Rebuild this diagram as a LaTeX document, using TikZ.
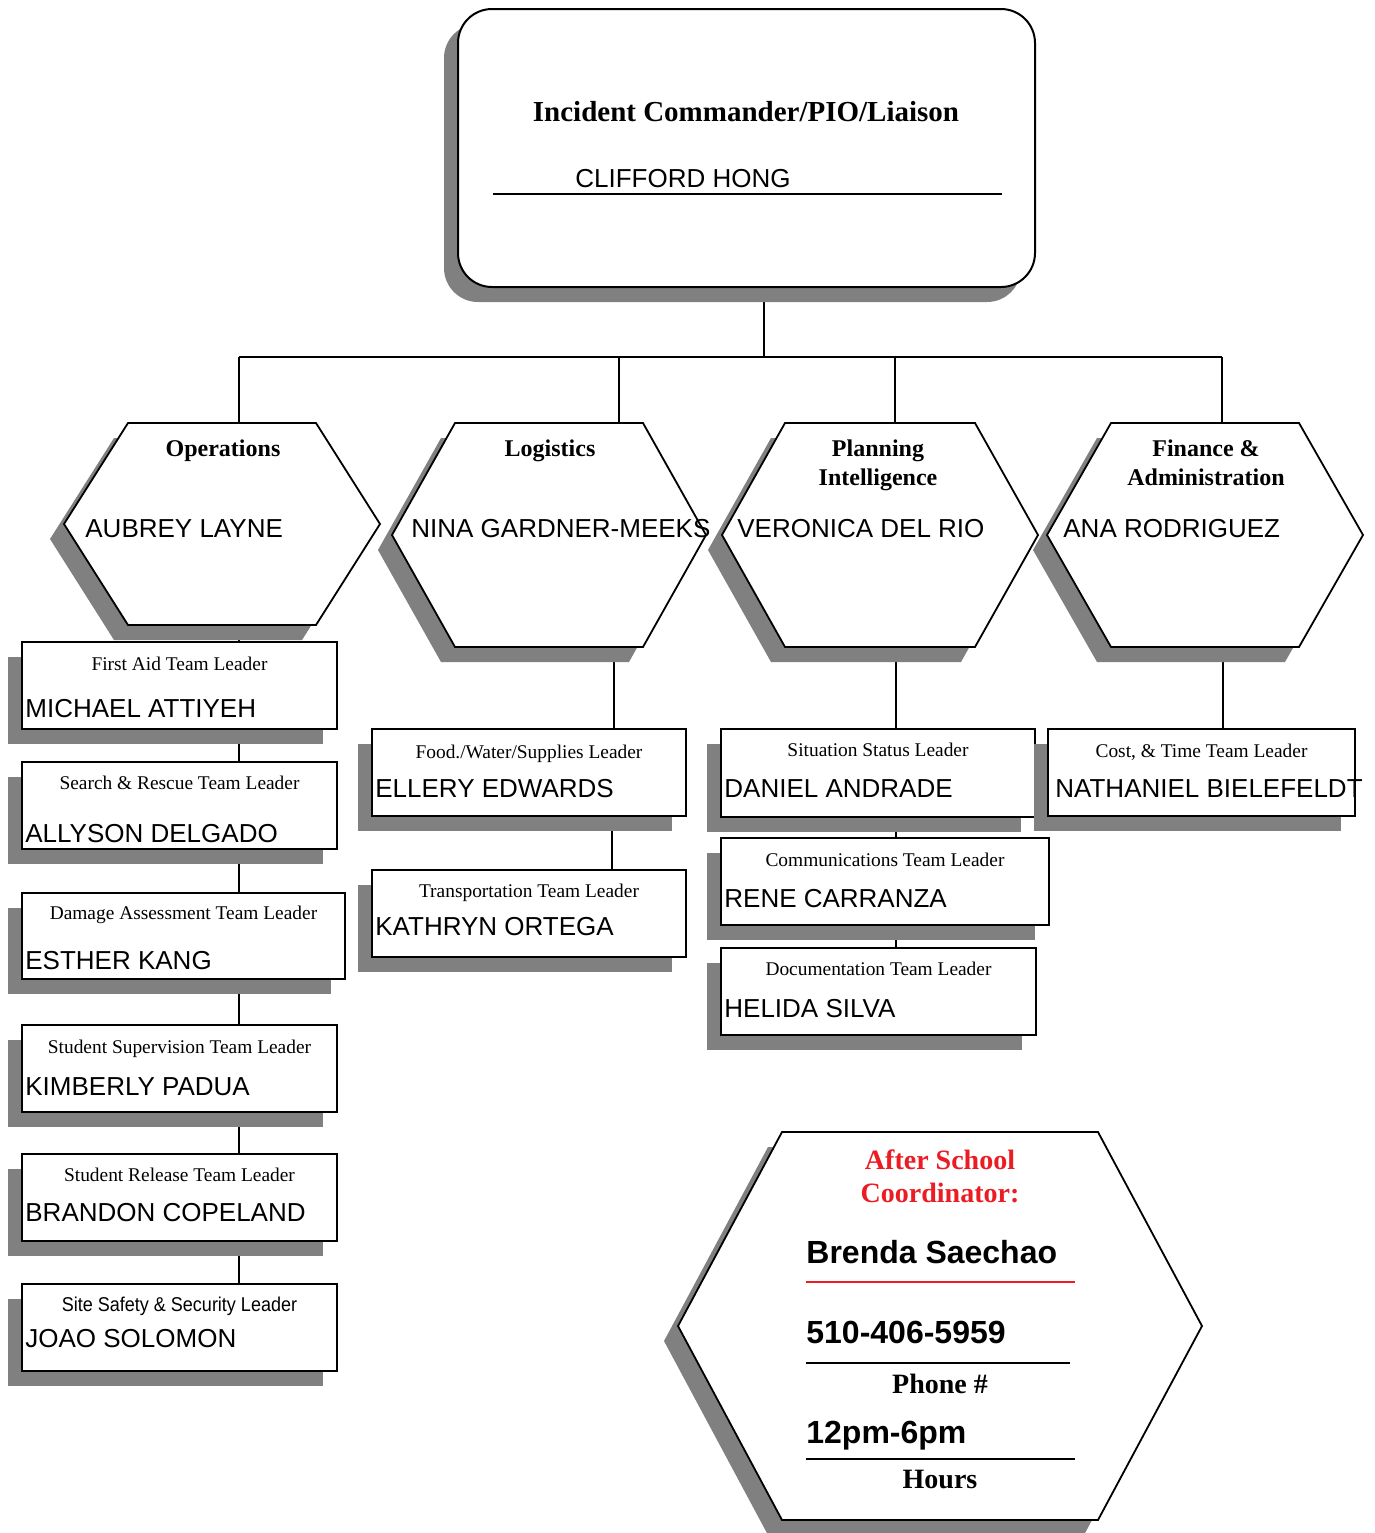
\documentclass[tikz,border=0pt]{standalone}
\usepackage{fontspec}
\setmainfont{Liberation Serif}
\newfontfamily\arial{Liberation Sans}
\newfontfamily\narrowsans[FakeStretch=0.9]{Liberation Sans}
\usetikzlibrary{shadows,backgrounds,calc}
\definecolor{shadowc}{RGB}{128,128,128}
\definecolor{ascred}{RGB}{235,28,36}

\tikzset{
  frame/.style={draw=black,line width=0.9pt,line join=miter},
  conn/.style={draw=black,line width=0.75pt},
  myshadow/.style={drop shadow={opacity=1,fill=shadowc,shadow xshift=-7pt,shadow yshift=-7.5pt}},
  lbox/.style={rectangle,draw=black,line width=1pt,fill=white,inner sep=0pt,outer sep=0pt,myshadow},
  ltitle/.style={anchor=base,inner sep=0pt,font=\fontsize{9.7}{11}\selectfont},
  lname/.style={anchor=base west,inner sep=0pt,font=\arial\fontsize{13}{15}\selectfont},
  htitle/.style={anchor=base,inner sep=0pt,font=\bfseries\fontsize{12}{14}\selectfont},
  asctitle/.style={anchor=base,inner sep=0pt,font=\bfseries\fontsize{14}{16}\selectfont},
  bigname/.style={anchor=base west,inner sep=0pt,font=\arial\bfseries\fontsize{16}{19}\selectfont},
}

% name, cx, cy, half width, half height, inset (all in px)
\newcommand\myhex[6]{%
  \fill[shadowc] ({#2-#4-14},{#3+15}) -- ({#2-#4+#6-14},{#3-#5+15}) -- ({#2+#4-#6-14},{#3-#5+15}) -- ({#2+#4-14},{#3+15}) -- ({#2+#4-#6-14},{#3+#5+15}) -- ({#2-#4+#6-14},{#3+#5+15}) -- cycle;
  \draw[frame,fill=white] ({#2-#4},{#3}) -- ({#2-#4+#6},{#3-#5}) -- ({#2+#4-#6},{#3-#5}) -- ({#2+#4},{#3}) -- ({#2+#4-#6},{#3+#5}) -- ({#2-#4+#6},{#3+#5}) -- cycle;
  \node[inner sep=0pt,outer sep=0pt,minimum width={#4*1pt},minimum height={#5*1pt}] (#1) at (#2,#3) {};
}

% name, x1, y1, x2, y2, title, person, title y, name y
\newcommand\ldrbox[9]{%
  \node[lbox,minimum width={(#4-#2)*0.5pt},minimum height={(#5-#3)*0.5pt}] (#1) at ({(#2+#4)/2},{(#3+#5)/2}) {};
  \node[ltitle] (#1-t) at ({(#2+#4)/2},{#8+6}) {#6};
  \node[lname] (#1-n) at ({#2+3},{#9+9}) {#7};
}

\begin{document}
\begin{tikzpicture}[x=0.5pt,y=-0.5pt]
\useasboundingbox (0,0) rectangle (1375,1533);
\begin{pgfonlayer}{background}
  \fill[white] (0,0) rectangle (1375,1533);
\end{pgfonlayer}

% top box
\node[rectangle,rounded corners=17pt,draw=black,line width=1pt,fill=white,myshadow,
      minimum width=288.5pt,minimum height=139pt,inner sep=0pt,outer sep=0pt] (ic) at (746.5,148) {};
\node[anchor=base,inner sep=0pt,font=\bfseries\fontsize{14.5}{17}\selectfont] (ic-t) at (746,121) {Incident Commander/PIO/Liaison};
\node[lname] (ic-n) at (575,187) {CLIFFORD HONG};
\draw[line width=0.8pt] (493,194) -- (1002,194);

% section hexagons
\myhex{ops}{222}{524}{158}{101}{64}
\myhex{log}{549}{535}{157}{112}{63}
\myhex{pla}{880}{535}{158}{112}{63}
\myhex{fin}{1205}{535}{158}{112}{64}

\node[htitle] (ops-t) at (223,456) {Operations};
\node[lname] (ops-n) at (85,537) {AUBREY LAYNE};
\node[htitle] (log-t) at (550,456) {Logistics};
\node[lname] (log-n) at (411,537) {NINA GARDNER-MEEKS};
\node[htitle] (pla-t1) at (878,456) {Planning};
\node[htitle] (pla-t2) at (878,485) {Intelligence};
\node[lname] (pla-n) at (737,537) {VERONICA DEL RIO};
\node[htitle] (fin-t1) at (1206,456) {Finance \&};
\node[htitle] (fin-t2) at (1206,485) {Administration};
\node[lname] (fin-n) at (1063,537) {ANA RODRIGUEZ};

% operations column
\ldrbox{fa}{22}{642}{337}{729}{First Aid Team Leader}{MICHAEL ATTIYEH}{664}{708}
\ldrbox{sr}{22}{762}{337}{849}{Search \& Rescue Team Leader}{ALLYSON DELGADO}{783}{833}
\ldrbox{da}{22}{893}{345}{979}{Damage Assessment Team Leader}{ESTHER KANG}{913}{960}
\ldrbox{ss}{22}{1025}{337}{1112}{Student Supervision Team Leader}{KIMBERLY PADUA}{1047}{1086}
\ldrbox{srl}{22}{1154}{337}{1241}{Student Release Team Leader}{BRANDON COPELAND}{1175}{1212}
\ldrbox{saf}{22}{1284}{337}{1371}{\narrowsans\fontsize{10}{12}\selectfont Site Safety \& Security Leader}{JOAO SOLOMON}{1305}{1338}

% logistics column
\ldrbox{fw}{372}{729}{686}{816}{Food./Water/Supplies Leader}{ELLERY EDWARDS}{752}{788}
\ldrbox{tr}{372}{870}{686}{957}{Transportation Team Leader}{KATHRYN ORTEGA}{891}{926}

% planning column
\ldrbox{sit}{721}{729}{1035}{817}{Situation Status Leader}{DANIEL ANDRADE}{750}{788}
\ldrbox{com}{721}{838}{1049}{925}{Communications Team Leader}{RENE CARRANZA}{860}{898}
\ldrbox{doc}{721}{948}{1036}{1035}{Documentation Team Leader}{HELIDA SILVA}{969}{1008}

% finance column
\ldrbox{cost}{1048}{729}{1355}{816}{Cost, \& Time Team Leader}{\hspace*{2pt}NATHANIEL BIELEFELDT}{751}{788}

% after school coordinator
\myhex{asc}{940}{1326}{262}{194}{104}
\node[asctitle,text=ascred] (asc-t1) at (940,1169) {After School};
\node[asctitle,text=ascred] (asc-t2) at (940,1202) {Coordinator:};
\node[bigname] (asc-n) at (806,1263) {Brenda Saechao};
\draw[ascred,line width=1pt] (806,1282) -- (1075,1282);
\node[bigname] (asc-p) at (806,1343) {510-406-5959};
\draw[line width=1pt] (806,1363) -- (1070,1363);
\node[asctitle] (asc-pl) at (940,1393) {Phone \#};
\node[bigname] (asc-h) at (806,1443) {12pm-6pm};
\draw[line width=1pt] (806,1459) -- (1075,1459);
\node[asctitle] (asc-hl) at (940,1488) {Hours};

% connectors
\coordinate (bus) at (764,357);
\coordinate (b1) at (239,357);
\coordinate (b2) at (619,357);
\coordinate (b3) at (895,357);
\coordinate (b4) at (1222,357);
\coordinate (lx) at (614,700);
\coordinate (px) at (896,700);
\coordinate (fx) at (1223,700);
\begin{pgfonlayer}{background}
  \draw[conn] (ic.south -| bus) -- (bus);
  \draw[conn] (b1) -- (b4);
  \draw[conn] (b1) -- (b1 |- ops.north);
  \draw[conn] (b2) -- (b2 |- log.north);
  \draw[conn] (b3) -- (b3 |- pla.north);
  \draw[conn] (b4) -- (b4 |- fin.north);
  \draw[conn] (b1 |- ops.south) -- (b1 |- fa.north);
  \draw[conn] (b1 |- fa.south) -- (b1 |- sr.north);
  \draw[conn] (b1 |- sr.south) -- (b1 |- da.north);
  \draw[conn] (b1 |- da.south) -- (b1 |- ss.north);
  \draw[conn] (b1 |- ss.south) -- (b1 |- srl.north);
  \draw[conn] (b1 |- srl.south) -- (b1 |- saf.north);
  \draw[conn] (lx |- log.south) -- (lx |- fw.north);
  \draw[conn] ([xshift=-1pt]lx |- fw.south) -- ([xshift=-1pt]lx |- tr.north);
  \draw[conn] (px |- pla.south) -- (px |- sit.north);
  \draw[conn] (px |- sit.south) -- (px |- com.north);
  \draw[conn] (px |- com.south) -- (px |- doc.north);
  \draw[conn] (fx |- fin.south) -- (fx |- cost.north);
\end{pgfonlayer}
\end{tikzpicture}
\end{document}
